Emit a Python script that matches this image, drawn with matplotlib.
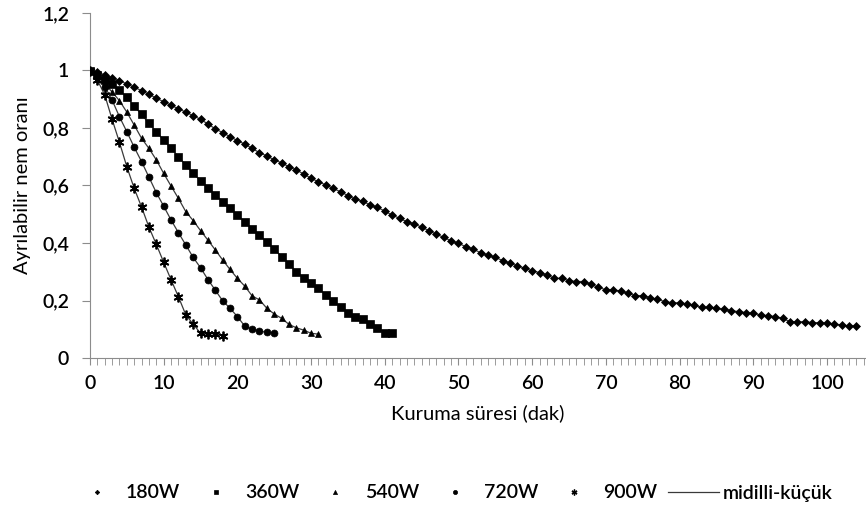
import numpy as np
import matplotlib
matplotlib.use("Agg")
import matplotlib.pyplot as plt
from matplotlib.ticker import MultipleLocator, FuncFormatter
from matplotlib.lines import Line2D

plt.rcParams['font.family'] = ['Lato', 'DejaVu Sans']
plt.rcParams['font.weight'] = 'semibold'

# drying data, values (minutes, moisture ratio)
mr_180 = [1.0, 0.994, 0.985, 0.975, 0.965, 0.953, 0.942, 0.93, 0.917, 0.904,
          0.891, 0.879, 0.867, 0.855, 0.843, 0.83, 0.814, 0.797, 0.784, 0.77,
          0.756, 0.744, 0.729, 0.714, 0.703, 0.689, 0.679, 0.665, 0.654, 0.64,
          0.625, 0.613, 0.602, 0.59, 0.578, 0.565, 0.552, 0.546, 0.532, 0.524,
          0.511, 0.497, 0.486, 0.474, 0.466, 0.455, 0.443, 0.43, 0.42, 0.407,
          0.399, 0.387, 0.379, 0.366, 0.358, 0.35, 0.339, 0.329, 0.321, 0.312,
          0.303, 0.297, 0.289, 0.277, 0.277, 0.269, 0.266, 0.266, 0.256, 0.246,
          0.237, 0.237, 0.233, 0.225, 0.217, 0.217, 0.21, 0.204, 0.196, 0.192,
          0.192, 0.188, 0.184, 0.176, 0.176, 0.173, 0.169, 0.165, 0.161, 0.158,
          0.155, 0.15, 0.147, 0.144, 0.138, 0.126, 0.126, 0.126, 0.123, 0.123,
          0.121, 0.118, 0.115, 0.111, 0.111]
mr_360 = [1.0, 0.984, 0.967, 0.953, 0.932, 0.907, 0.876, 0.847, 0.816, 0.787,
          0.758, 0.729, 0.70, 0.671, 0.642, 0.617, 0.593, 0.568, 0.544, 0.521,
          0.497, 0.474, 0.45, 0.427, 0.403, 0.378, 0.353, 0.327, 0.30, 0.279,
          0.262, 0.242, 0.219, 0.199, 0.178, 0.158, 0.144, 0.134, 0.12, 0.105,
          0.088, 0.088]
mr_540 = [1.0, 0.985, 0.955, 0.925, 0.895, 0.855, 0.81, 0.764, 0.729, 0.689,
          0.642, 0.598, 0.555, 0.509, 0.478, 0.443, 0.41, 0.376, 0.341, 0.308,
          0.277, 0.25, 0.216, 0.202, 0.173, 0.153, 0.138, 0.117, 0.105, 0.097,
          0.086, 0.083]
mr_720 = [1.0, 0.985, 0.944, 0.897, 0.839, 0.787, 0.733, 0.683, 0.629, 0.575,
          0.528, 0.48, 0.436, 0.393, 0.35, 0.314, 0.273, 0.236, 0.199, 0.173,
          0.144, 0.111, 0.1, 0.094, 0.089, 0.088]
mr_900 = [1.0, 0.967, 0.915, 0.83, 0.75, 0.665, 0.59, 0.525, 0.455, 0.395,
          0.333, 0.272, 0.213, 0.15, 0.118, 0.086, 0.084, 0.084, 0.078]

series = [("180W", mr_180, "D", 3.8),
          ("360W", mr_360, "s", 5.5),
          ("540W", mr_540, "^", 5.0),
          ("720W", mr_720, "o", 5.0),
          ("900W", mr_900, (6, 2, 0), 7.0)]

fig = plt.figure(figsize=(8.66, 5.14), dpi=100)
ax = fig.add_axes([90/866, 1 - 358/514, 1 - 90/866, 345/514])

for name, vals, mk, ms in series:
    t = np.arange(len(vals))
    ax.plot(t, vals, color="#3a3a3a", lw=0.9, zorder=2)
    ax.plot(t, vals, linestyle="none", marker=mk, ms=ms, color="black",
            mew=1.3 if mk == (6, 2, 0) else 0.5, zorder=3)

ax.set_xlim(0, 105.3)
ax.set_ylim(0, 1.2)
ax.xaxis.set_major_locator(MultipleLocator(10))
ax.xaxis.set_minor_locator(MultipleLocator(1))
ax.yaxis.set_major_locator(MultipleLocator(0.2))

def comma(v, pos):
    s = ("%.1f" % v).rstrip("0").rstrip(".")
    return s.replace(".", ",")

ax.yaxis.set_major_formatter(FuncFormatter(comma))
for s in ["top", "right"]:
    ax.spines[s].set_visible(False)
for s in ["left", "bottom"]:
    ax.spines[s].set_color("#8c8c8c")
ax.tick_params(axis="both", which="both", color="#8c8c8c", direction="out")
ax.tick_params(axis="x", which="both", length=5, labelsize=14, pad=7)
ax.tick_params(axis="y", length=6, labelsize=14, pad=9)

ax.set_xlabel("Kuruma süresi (dak)", fontsize=14.5, labelpad=9)
ax.set_ylabel("Ayrılabilir nem oranı", fontsize=14.5, labelpad=8)

handles = [Line2D([], [], linestyle="none", marker=mk, ms=ms * 0.6, color="black",
                  mew=1.0 if mk == (6, 2, 0) else 0.5)
           for name, vals, mk, ms in series]
handles.append(Line2D([], [], color="#3a3a3a", lw=0.9))
labels = [s[0] for s in series] + ["midilli-küçük"]
fig.legend(handles, labels, loc="center", bbox_to_anchor=(452/866, 1 - 493/514),
           ncol=6, frameon=False, fontsize=14, handlelength=2.6,
           handletextpad=0.2, columnspacing=0.55)

fig.savefig("out.png", dpi=100)
